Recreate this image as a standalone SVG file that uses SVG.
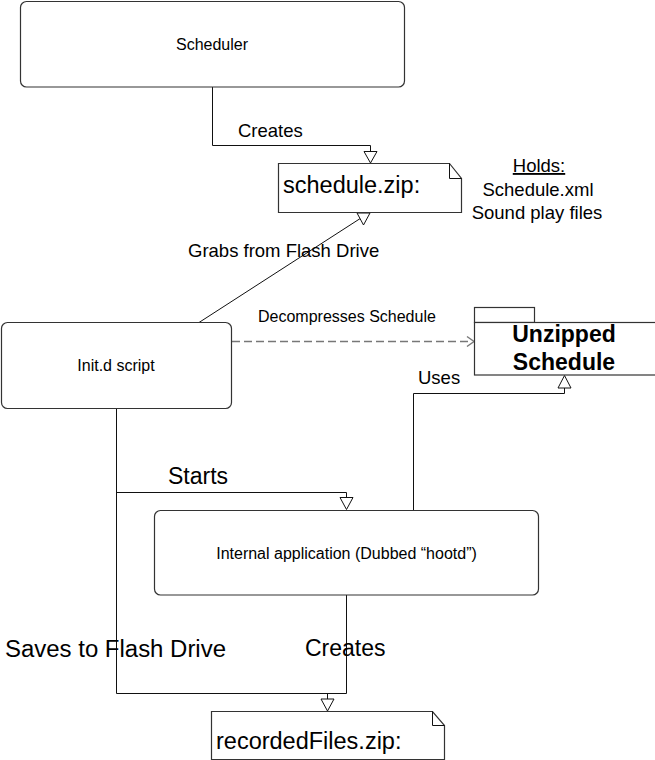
<svg xmlns="http://www.w3.org/2000/svg" width="655" height="760" viewBox="0 0 655 760">
<defs>
<style>
text{font-family:"Liberation Sans",Arial,sans-serif;fill:#000}
.box{fill:#fff;stroke:#333;stroke-width:1.2}
.note{fill:#fff;stroke:#333;stroke-width:1.2}
.ln{fill:none;stroke:#111;stroke-width:1}
.tri{fill:#fff;stroke:#111;stroke-width:1}
.dash{fill:none;stroke:#777;stroke-width:1.6;stroke-dasharray:8 4}
.s16{font-size:16px}
.s18{font-size:18.5px}
.s23{font-size:23px}
.s24{font-size:23.5px}
.b23{font-size:23px;font-weight:bold}
</style>
</defs>
<rect width="655" height="760" fill="#fff"/>
<g id="connectors">
  <path class="ln" d="M212.5,87 V145.5 H370.5 V151"/>
  <polygon class="tri" points="364,151.5 377,151.5 370.5,163"/>
  <text class="s18" x="238" y="137">Creates</text>
  <path class="ln" d="M199,322.5 L361,218"/>
  <polygon class="tri" points="357,213 370,213 363.5,225"/>
  <text class="s18" x="188" y="257">Grabs from Flash Drive</text>
  <path class="dash" d="M232,341.5 H472"/>
  <path fill="none" stroke="#777" stroke-width="1.4" d="M467,336.5 L474,341.5 L467,346.5"/>
  <text class="s16" x="258" y="322">Decompresses Schedule</text>
  <path class="ln" d="M413.5,510 V393.5 H564.5 V388"/>
  <polygon class="tri" points="558,388 571,388 564.5,375.5"/>
  <text class="s18" x="418" y="384">Uses</text>
  <path class="ln" d="M116.5,409 V693.5 H346.5 V595"/>
  <path class="ln" d="M116.5,492.5 H346.5 V497"/>
  <polygon class="tri" points="340,497.5 353,497.5 346.5,509.5"/>
  <text class="s23" x="168" y="484">Starts</text>
  <path class="ln" d="M327.5,693.5 V699"/>
  <polygon class="tri" points="321,699 334,699 327.5,711"/>
  <text class="s24" x="5" y="657" textLength="221" lengthAdjust="spacingAndGlyphs">Saves to Flash Drive</text>
  <text class="s23" x="305" y="656">Creates</text>
</g>
<g id="scheduler">
  <rect class="box" x="20.5" y="1.5" width="384" height="85.5" rx="6"/>
  <text class="s16" x="212" y="49.5" text-anchor="middle">Scheduler</text>
</g>
<g id="schedule-zip">
  <path class="note" d="M278.5,163.5 H449.5 L461.5,178.5 V212.5 H278.5 Z"/>
  <path class="ln" d="M449.5,163.5 V178.5 H461.5" stroke="#333"/>
  <text class="s24" x="283" y="193">schedule.zip:</text>
</g>
<g id="holds">
  <text class="s18" x="539" y="172" text-anchor="middle" text-decoration="underline">Holds:</text>
  <text class="s18" x="538" y="196" text-anchor="middle">Schedule.xml</text>
  <text class="s18" x="537" y="219" text-anchor="middle">Sound play files</text>
</g>
<g id="initd">
  <rect class="box" x="1.5" y="322.5" width="230" height="86" rx="6"/>
  <text class="s16" x="116" y="370.5" text-anchor="middle">Init.d script</text>
</g>
<g id="unzipped">
  <rect class="box" x="474.5" y="307.5" width="60" height="15"/>
  <rect class="box" x="474.5" y="322.5" width="190" height="52.5"/>
  <text class="b23" x="564" y="341.5" text-anchor="middle">Unzipped</text>
  <text class="b23" x="564" y="370" text-anchor="middle">Schedule</text>
</g>
<g id="hootd">
  <rect class="box" x="154.5" y="510.5" width="384" height="84.5" rx="6"/>
  <text class="s16" x="346.5" y="559" text-anchor="middle">Internal application (Dubbed “hootd”)</text>
</g>
<g id="recordedfiles-zip">
  <path class="note" d="M211.5,711.5 H432.5 L444.5,725.5 V759.5 H211.5 Z"/>
  <path class="ln" d="M432.5,711.5 V725.5 H444.5" stroke="#333"/>
  <text class="s24" x="216" y="749">recordedFiles.zip:</text>
</g>
</svg>
